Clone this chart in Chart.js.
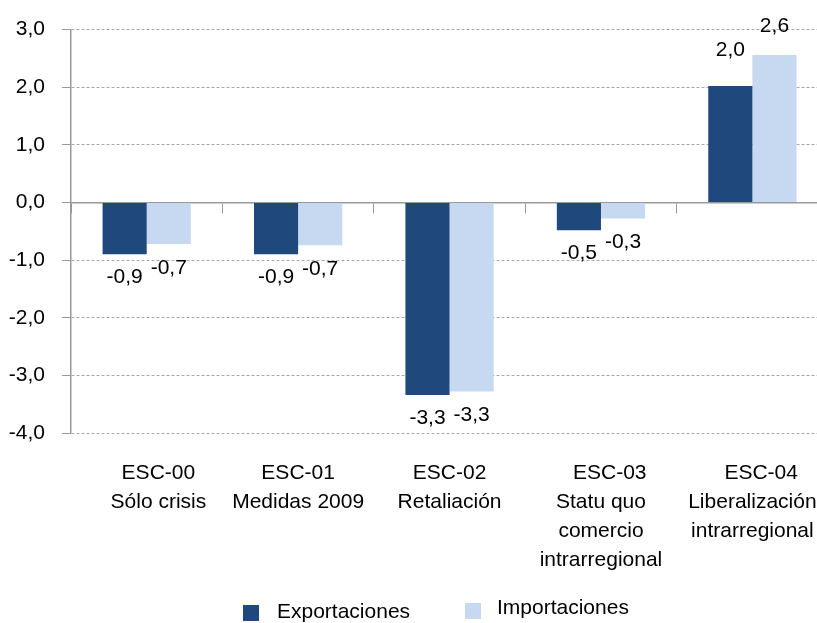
<!DOCTYPE html>
<html>
<head>
<meta charset="utf-8">
<script src="https://cdn.jsdelivr.net/npm/chart.js@4/dist/chart.umd.min.js"></script>
<style>
  body { margin: 0; overflow: hidden; background: #fff; }
  #wrap { position: relative; width: 843px; height: 623px; }
  .leg { position: absolute; font: 21px "Liberation Sans", Arial, sans-serif; color: #000; white-space: nowrap; }
  .box { position: absolute; width: 16px; height: 16px; }
</style>
</head>
<body>
<div id="wrap">
  <canvas id="chart" width="843" height="623"></canvas>
  <div class="box" style="left:243px;top:605px;background:#1F497D"></div>
  <div class="leg" style="left:277px;top:599px">Exportaciones</div>
  <div class="box" style="left:465px;top:603px;background:#C6D9F1"></div>
  <div class="leg" style="left:497px;top:595px">Importaciones</div>
</div>
<script>
// datos (los espacios iniciales imitan el centrado del original)
const categories = [
  ['    ESC-00', '    Sólo crisis'],
  ['ESC-01', 'Medidas 2009'],
  ['ESC-02', 'Retaliación'],
  ['   ESC-03', 'Statu quo', 'comercio', 'intrarregional'],
  ['   ESC-04', 'Liberalización', 'intrarregional'],
];
const exportaciones = [-0.9, -0.9, -3.34, -0.48, 2.02];
const importaciones = [-0.72, -0.74, -3.28, -0.28, 2.56];
const seriesNames = ['Exportaciones', 'Importaciones'];
const yMin = -4, yMax = 3, yStep = 1;

const DARK = '#1F497D';
const LIGHT = '#C6D9F1';
const fmt = v => v.toFixed(1).replace('.', ',');

Chart.defaults.font.family = '"Liberation Sans", Arial, sans-serif';
Chart.defaults.font.size = 21;
Chart.defaults.color = '#000';

// desplazamiento de etiquetas por serie: [negativo, positivo]
const labelOffsets = [[23, -36], [24, -29]];

// etiquetas de valor encima / debajo de cada barra
const valueLabels = {
  id: 'valueLabels',
  afterDatasetsDraw(chart) {
    const ctx = chart.ctx;
    ctx.save();
    ctx.font = '21px "Liberation Sans", Arial, sans-serif';
    ctx.fillStyle = '#000';
    ctx.textAlign = 'center';
    ctx.textBaseline = 'middle';
    chart.data.datasets.forEach((ds, i) => {
      chart.getDatasetMeta(i).data.forEach((bar, j) => {
        const v = ds.data[j];
        const off = labelOffsets[i];
        const y = v < 0 ? bar.y + off[0] : bar.y + off[1];
        ctx.fillText(fmt(v), bar.x, y);
      });
    });
    ctx.restore();
  }
};

new Chart(document.getElementById('chart'), {
  type: 'bar',
  data: {
    labels: categories,
    datasets: [
      { label: seriesNames[0], data: exportaciones, backgroundColor: DARK },
      { label: seriesNames[1], data: importaciones, backgroundColor: LIGHT },
    ]
  },
  options: {
    responsive: false,
    animation: false,
    layout: { padding: { top: 15, right: 4, left: 0, bottom: 0 } },
    datasets: { bar: { barPercentage: 1, categoryPercentage: 0.583 } },
    plugins: { legend: { display: false }, tooltip: { enabled: false } },
    scales: {
      x: {
        position: 'bottom',
        grid: { display: false, drawTicks: false },
        border: { display: false },
        ticks: { padding: 26, maxRotation: 0, autoSkip: false, font: { size: 21, lineHeight: 1.38 } },
        afterFit: s => { s.height = 190; }
      },
      x2: {
        type: 'category',
        labels: categories,
        position: { y: 0 },
        offset: true,
        grid: { offset: true, drawOnChartArea: false, tickLength: 10, color: '#999' },
        border: { color: '#999', width: 1.5 },
        ticks: { display: false },
        afterFit: s => { s.height = 0; }
      },
      y: {
        min: yMin,
        max: yMax,
        ticks: { stepSize: yStep, padding: 17, callback: v => fmt(v) },
        grid: {
          color: c => (c.tick && c.tick.value === 0 ? '#999' : '#A8A8A8'),
          tickLength: 9,
          tickColor: '#999',
          tickBorderDash: []
        },
        border: {
          color: '#999',
          width: 1.5,
          dash: c => (c.tick && c.tick.value !== 0 ? [3, 2] : [])
        },
        afterFit: s => { s.width = 71; }
      }
    }
  },
  plugins: [valueLabels]
});
</script>
</body>
</html>
